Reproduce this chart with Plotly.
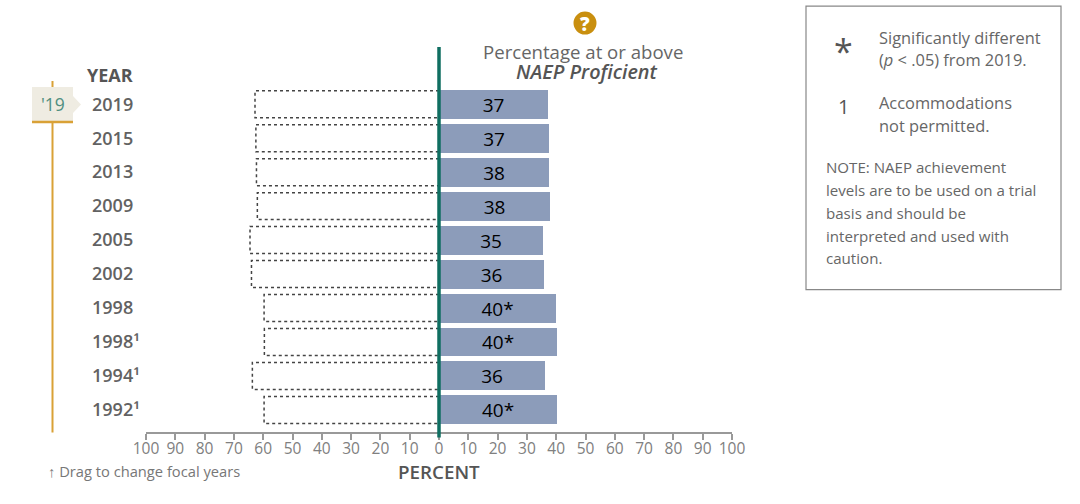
import plotly.graph_objects as go

years = ["2019", "2015", "2013", "2009", "2005", "2002", "1998", "1998¹", "1994¹", "1992¹"]
at_or_above = [37.2, 37.5, 37.6, 38.0, 35.5, 36.0, 40.0, 40.3, 36.3, 40.3]
below = [62.8, 62.5, 62.3, 62.0, 64.5, 64.0, 59.7, 59.6, 63.7, 59.7]
bar_labels = ["37", "37", "38", "38", "35", "36", "40*", "40*", "36", "40*"]
x_ticks = [-100, -90, -80, -70, -60, -50, -40, -30, -20, -10, 0, 10, 20, 30, 40, 50, 60, 70, 80, 90, 100]

W, H = 1080, 504
L, R, T, B = 146, 732, 47, 432.5
FONT = "Open Sans"


def px(x):
    return (x - L) / (R - L)


def py(y):
    return (B - y) / (B - T)


rows = list(range(len(years)))
half = 0.397
dash_x, dash_y = [], []
for i, v in zip(rows, below):
    dash_x += [0, -v, -v, 0, None]
    dash_y += [i - half, i - half, i + half, i + half, None]

fig = go.Figure()
fig.add_trace(go.Bar(
    y=rows, x=at_or_above, orientation="h", width=0.853,
    marker=dict(color="#8c9cba", line_width=0),
    text=bar_labels, textposition="inside", insidetextanchor="middle", textangle=0,
    constraintext="none", insidetextfont=dict(family=FONT, size=19, color="#000000"),
    hoverinfo="skip", showlegend=False,
))
fig.add_trace(go.Scatter(
    x=dash_x, y=dash_y, mode="lines",
    line=dict(color="#444444", width=1.5, dash="3px,3px"),
    hoverinfo="skip", showlegend=False,
))

annotations = []


def label(x, y, text, size, color="#666666", anchor="left", weight=None, style=None):
    font = dict(family=FONT, size=size, color=color)
    if weight:
        font["weight"] = weight
    if style:
        font["style"] = style
    annotations.append(dict(
        x=px(x), y=py(y), xref="paper", yref="paper", text=text, showarrow=False,
        xanchor=anchor, yanchor="middle", font=font, borderpad=0, borderwidth=0,
    ))


for i, yr in enumerate(years):
    annotations.append(dict(
        x=px(91), y=i - 0.02, xref="paper", yref="y", text=yr, showarrow=False,
        xanchor="left", yanchor="middle", borderpad=0,
        font=dict(family=FONT, size=18, color="#626262", weight=600),
    ))

label(87, 75, "YEAR", 18, "#555555", weight=700)
label(52.5, 104.5, "'19", 17.5, "#4f8f80", anchor="center")
label(583, 52, "Percentage at or above", 18.6, "#666666", anchor="center")
label(587, 72, "NAEP Proficient", 19.8, "#555555", anchor="center", weight=600, style="italic")
label(585, 23.5, "?", 19, "#ffffff", anchor="center", weight=800)
label(439, 473, "PERCENT", 18.8, "#555555", anchor="center", weight=600)
label(48, 472, "↑ Drag to change focal years", 14.7, "#777777")

label(843, 51, "*", 34, "#555555", anchor="center")
label(843, 107, "1", 20, "#555555", anchor="center")
label(879, 37, "Significantly different", 16.4)
label(879, 60, "(<i>p</i> &lt; .05) from 2019.", 16.4)
label(879, 103, "Accommodations", 16.4)
label(879, 126, "not permitted.", 16.4)
for y, line in zip([167, 190, 213, 236, 258], [
    "NOTE: NAEP achievement",
    "levels are to be used on a trial",
    "basis and should be",
    "interpreted and used with",
    "caution.",
]):
    label(826, y, line, 15.1)


def rect(x0, y0, x1, y1, **kw):
    return dict(type="rect", xref="paper", yref="paper", x0=px(x0), x1=px(x1), y0=py(y0), y1=py(y1), **kw)


def seg(x0, y0, x1, y1, color, width):
    return dict(type="line", xref="paper", yref="paper", x0=px(x0), x1=px(x1), y0=py(y0), y1=py(y1),
                line=dict(color=color, width=width))


GOLD = "#d9a136"
tx0, ty0 = px(73), py(96)
tri = f"M {tx0} {ty0} L {px(81)} {py(104.5)} L {px(73)} {py(113)} Z"
shapes = [
    dict(type="line", xref="x", yref="paper", x0=0, x1=0, y0=py(47), y1=py(438),
         line=dict(color="#0f6e61", width=3.5), layer="above"),
    seg(52.5, 81, 52.5, 433, GOLD, 2),
    rect(32, 87, 73, 122, fillcolor="#efece2", line_width=0),
    dict(type="path", xref="paper", yref="paper", path=tri, fillcolor="#efece2", line_width=0),
    seg(32, 122, 73, 122, GOLD, 2.5),
    dict(type="circle", xref="paper", yref="paper", x0=px(573.5), x1=px(596.5), y0=py(11.5), y1=py(34.5),
         fillcolor="#c98f0f", line_width=0),
    rect(806, 6, 1061, 290, line=dict(color="#888888", width=1.2)),
]

fig.update_layout(
    width=W, height=H, autosize=False,
    margin=dict(l=L, r=W - R, t=T, b=H - B, pad=0),
    paper_bgcolor="white", plot_bgcolor="white",
    font=dict(family=FONT),
    xaxis=dict(
        range=[-100, 100], tickvals=x_ticks, ticktext=[str(abs(t)) for t in x_ticks],
        ticks="outside", ticklen=6, tickwidth=1.5, tickcolor="#999999",
        showline=True, linecolor="#999999", linewidth=1.5, showgrid=False, zeroline=False,
        tickfont=dict(family=FONT, size=15.5, color="#808080"), tickangle=0, fixedrange=True,
        ticklabelstandoff=-4,
    ),
    yaxis=dict(range=[9.65, -1.685], visible=False, fixedrange=True),
    bargap=0, showlegend=False, annotations=annotations, shapes=shapes,
)
fig.write_html("out.html", config={"displayModeBar": False},
               post_script="document.body.style.margin='0';")
